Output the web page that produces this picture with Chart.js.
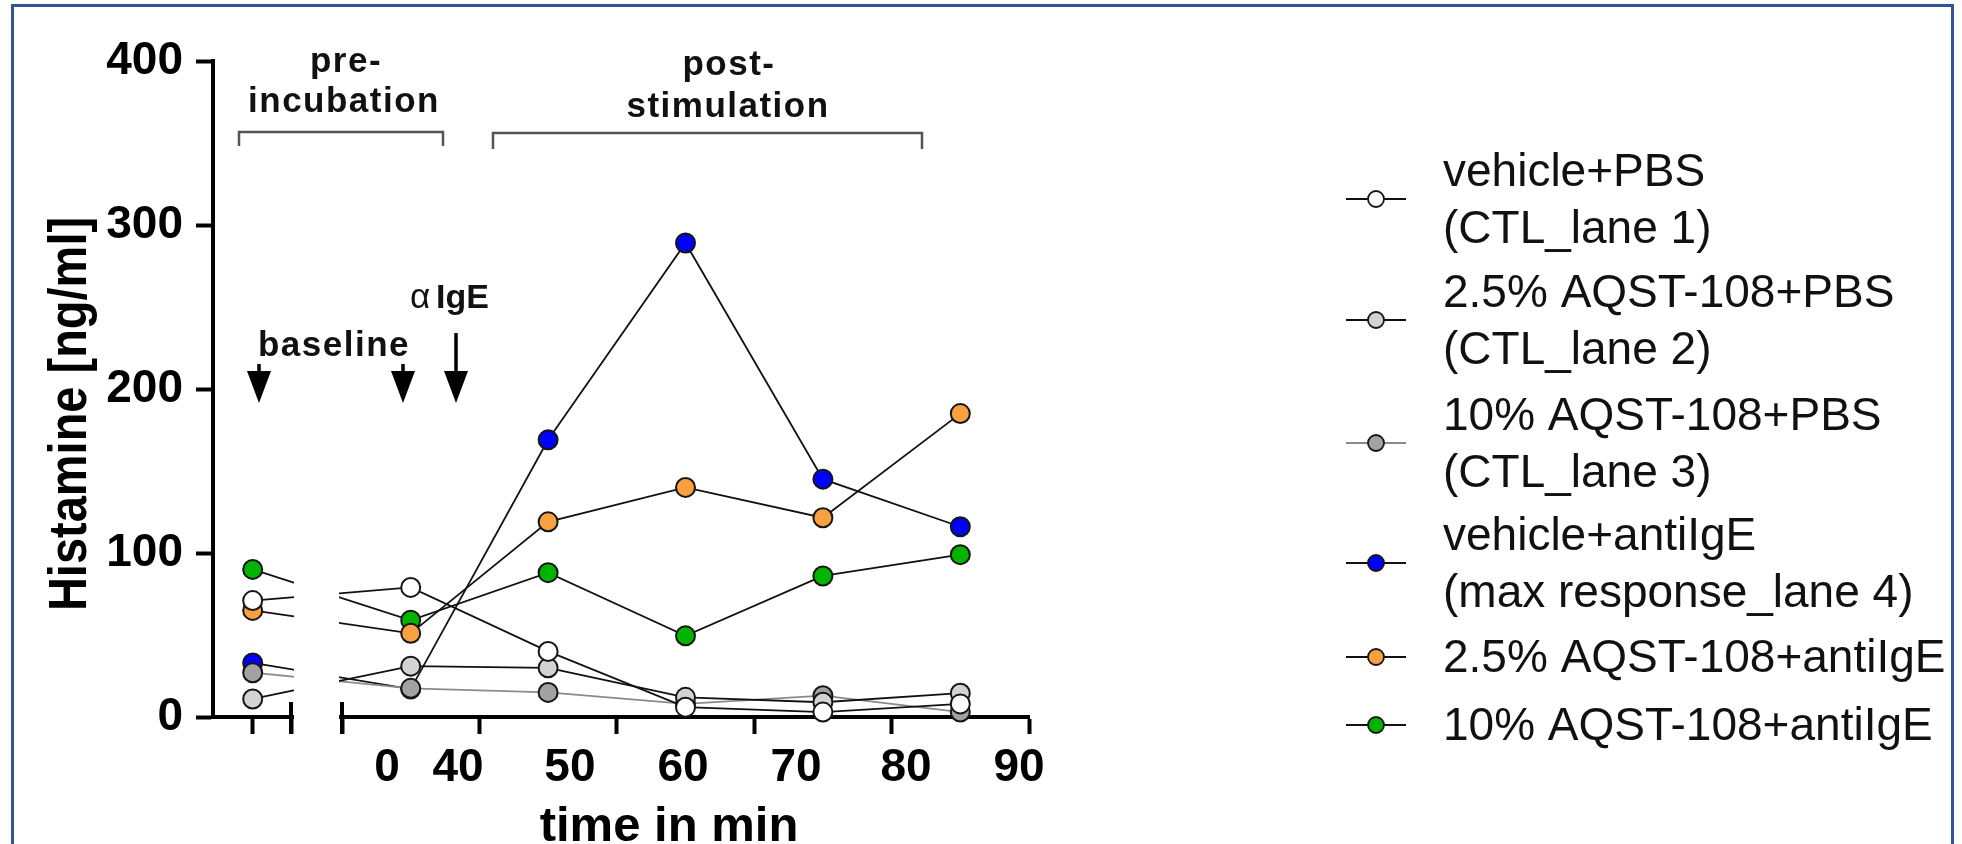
<!DOCTYPE html>
<html><head><meta charset="utf-8">
<script src="https://cdn.jsdelivr.net/npm/chart.js@4.4.1/dist/chart.umd.min.js"></script>
<style>html,body{margin:0;padding:0;background:#fff;}canvas{display:block;}</style>
</head><body>
<canvas id="c" width="1962" height="844"></canvas>
<script>
// ---- data ----
const seriesNames = [
  ["vehicle+PBS", "(CTL_lane 1)"],
  ["2.5% AQST-108+PBS", "(CTL_lane 2)"],
  ["10% AQST-108+PBS", "(CTL_lane 3)"],
  ["vehicle+antiIgE", "(max response_lane 4)"],
  ["2.5% AQST-108+antiIgE"],
  ["10% AQST-108+antiIgE"]
];
const sampleX = [-0.65, 0.5, 1.5, 2.5, 3.5, 4.5];
const vehiclePBS = [71, 79, 40, 6, 3, 8];
const aqst25PBS = [11, 31, 30, 12, 9, 14.5];
const aqst10PBS = [27, 17.5, 15, 8, 13, 3];
const vehicleIgE = [33, 17, 169, 289, 145, 116];
const aqst25IgE = [65, 51, 119, 140, 121.5, 185];
const aqst10IgE = [90, 59, 88, 49.5, 86, 99];
const xTickLabels = ["0", "40", "50", "60", "70", "80", "90"];
const xTickLabelAt = [0.328, 0.844, 1.659, 2.482, 3.304, 4.105, 4.927];
const xTickMarks = [-0.65, -0.371, 0, 1, 2, 3, 4, 5];
const xBreak = [-0.371, 0];
const yTicks = [0, 100, 200, 300, 400];
const yTitle = "Histamine [ng/ml]";
const xTitle = "time in min";

// ---- styles ----
const FONT = '"Liberation Sans", Arial, Helvetica, sans-serif';
const fills = ['#ffffff', '#d3d3d3', '#a2a2a2', '#0000ff', '#f9a140', '#00b400'];
const lineColors = ['#111111', '#111111', '#8a8a8a', '#111111', '#111111', '#111111'];
const allValues = [vehiclePBS, aqst25PBS, aqst10PBS, vehicleIgE, aqst25IgE, aqst10IgE];

const labelMap = new Map(xTickLabelAt.map((v, i) => [v, xTickLabels[i]]));
const allXTicks = xTickMarks.concat(xTickLabelAt).sort((a, b) => a - b);

const datasets = allValues.map((vals, i) => ({
  label: seriesNames[i].join(' '),
  data: sampleX.map((x, j) => ({x: x, y: vals[j]})),
  borderColor: lineColors[i],
  borderWidth: 1.8,
  tension: 0,
  pointRadius: 9.5,
  pointBorderWidth: 2,
  pointBorderColor: '#151515',
  pointBackgroundColor: fills[i],
  clip: false
}));

const breakPlugin = {
  id: 'axisBreak',
  afterDatasetsDraw(chart) {
    const {ctx, chartArea, scales: {x}} = chart;
    const a = x.getPixelForValue(xBreak[0]), b = x.getPixelForValue(xBreak[1]);
    ctx.save();
    ctx.fillStyle = '#ffffff';
    ctx.fillRect(a + 3, chartArea.top - 10, b - a - 6, chartArea.bottom - chartArea.top + 40);
    ctx.strokeStyle = '#000';
    ctx.lineWidth = 4;
    [a, b].forEach(p => {
      ctx.beginPath();
      ctx.moveTo(p, chartArea.bottom - 15);
      ctx.lineTo(p, chartArea.bottom + 17);
      ctx.stroke();
    });
    ctx.restore();
  }
};

const decorPlugin = {
  id: 'decor',
  afterDraw(chart) {
    const ctx = chart.ctx;
    ctx.save();
    ctx.fillStyle = '#111';
    ctx.textAlign = 'center';
    ctx.textBaseline = 'alphabetic';
    // annotation texts
    ctx.font = 'bold 35px ' + FONT;
    try { ctx.letterSpacing = '1.5px'; } catch (e) {}
    ctx.fillText('pre-', 346, 72);
    ctx.fillText('incubation', 344, 112);
    ctx.fillText('post-', 729, 75);
    ctx.fillText('stimulation', 728, 117);
    ctx.fillText('baseline', 334, 356);
    try { ctx.letterSpacing = '0px'; } catch (e) {}
    ctx.textAlign = 'left';
    ctx.font = '35px ' + FONT;
    ctx.fillText('\u03b1', 410, 308);
    ctx.font = 'bold 34px ' + FONT;
    ctx.fillText('IgE', 436, 308);
    // brackets
    ctx.strokeStyle = '#555';
    ctx.lineWidth = 2.5;
    ctx.beginPath();
    ctx.moveTo(239, 146); ctx.lineTo(239, 132); ctx.lineTo(443, 132); ctx.lineTo(443, 146);
    ctx.stroke();
    ctx.beginPath();
    ctx.moveTo(493, 149); ctx.lineTo(493, 133); ctx.lineTo(922, 133); ctx.lineTo(922, 149);
    ctx.stroke();
    // arrows
    const arrow = (x, yTop, yTip) => {
      ctx.fillStyle = '#000';
      ctx.fillRect(x - 1.75, yTop, 3.5, yTip - yTop - 28);
      ctx.beginPath();
      ctx.moveTo(x - 12, yTip - 32);
      ctx.lineTo(x + 12, yTip - 32);
      ctx.lineTo(x, yTip);
      ctx.closePath();
      ctx.fill();
    };
    arrow(259, 364, 403);
    arrow(403, 364, 403);
    arrow(456, 333, 403);
    // axis titles
    ctx.fillStyle = '#000';
    ctx.save();
    ctx.translate(71, 414);
    ctx.rotate(-Math.PI / 2);
    ctx.scale(0.87, 1);
    ctx.textAlign = 'center';
    ctx.textBaseline = 'middle';
    ctx.font = 'bold 54px ' + FONT;
    ctx.fillText(yTitle, 0, 0);
    ctx.restore();
    ctx.textAlign = 'center';
    ctx.textBaseline = 'alphabetic';
    ctx.font = 'bold 49px ' + FONT;
    ctx.fillText(xTitle, 669, 841);
    // legend
    const markerY = [199, 320, 443, 563, 657, 725];
    ctx.textAlign = 'left';
    ctx.font = '46px ' + FONT;
    seriesNames.forEach((lines, i) => {
      const my = markerY[i];
      ctx.strokeStyle = lineColors[i];
      ctx.lineWidth = 1.8;
      ctx.beginPath(); ctx.moveTo(1346, my); ctx.lineTo(1406, my); ctx.stroke();
      ctx.beginPath(); ctx.arc(1376, my, 8, 0, Math.PI * 2);
      ctx.fillStyle = fills[i]; ctx.fill();
      ctx.strokeStyle = '#151515'; ctx.lineWidth = 1.8; ctx.stroke();
      ctx.fillStyle = '#111';
      if (lines.length === 1) {
        ctx.fillText(lines[0], 1443, my + 15);
      } else {
        ctx.fillText(lines[0], 1443, my - 13.5);
        ctx.fillText(lines[1], 1443, my + 43.5);
      }
    });
    // frame
    ctx.strokeStyle = '#2f5597';
    ctx.lineWidth = 3;
    ctx.strokeRect(12.5, 5.5, 1940, 900);
    ctx.restore();
  }
};

new Chart(document.getElementById('c'), {
  type: 'line',
  data: {datasets: datasets},
  plugins: [breakPlugin, decorPlugin],
  options: {
    responsive: false,
    animation: false,
    devicePixelRatio: 1,
    events: [],
    layout: {padding: {left: 0, top: 61, right: 933, bottom: 0}},
    plugins: {legend: {display: false}, tooltip: {enabled: false}, title: {display: false}},
    scales: {
      x: {
        type: 'linear', position: 'bottom', min: -0.9389, max: 5,
        afterBuildTicks: s => { s.ticks = allXTicks.map(v => ({value: v})); },
        afterFit: s => { s.height = 127; },
        grid: {
          drawOnChartArea: false, drawTicks: true, tickLength: 17, tickWidth: 4,
          tickColor: c => (c.tick && labelMap.has(c.tick.value)) ? 'rgba(0,0,0,0)' : '#000'
        },
        border: {display: true, color: '#000', width: 4},
        ticks: {
          autoSkip: false, maxRotation: 0, minRotation: 0, padding: 7, color: '#000',
          font: {size: 46, weight: 'bold', family: FONT, lineHeight: 1.2},
          callback: v => labelMap.has(v) ? labelMap.get(v) : ''
        }
      },
      y: {
        type: 'linear', min: 0, max: 400,
        afterBuildTicks: s => { s.ticks = yTicks.map(v => ({value: v})); },
        afterFit: s => { s.width = 213; },
        grid: {drawOnChartArea: false, drawTicks: true, tickLength: 17, tickWidth: 4, tickColor: '#000'},
        border: {display: true, color: '#000', width: 4},
        ticks: {padding: 13, color: '#000', font: {size: 46, weight: 'bold', family: FONT}}
      }
    }
  }
});
</script>
</body></html>
